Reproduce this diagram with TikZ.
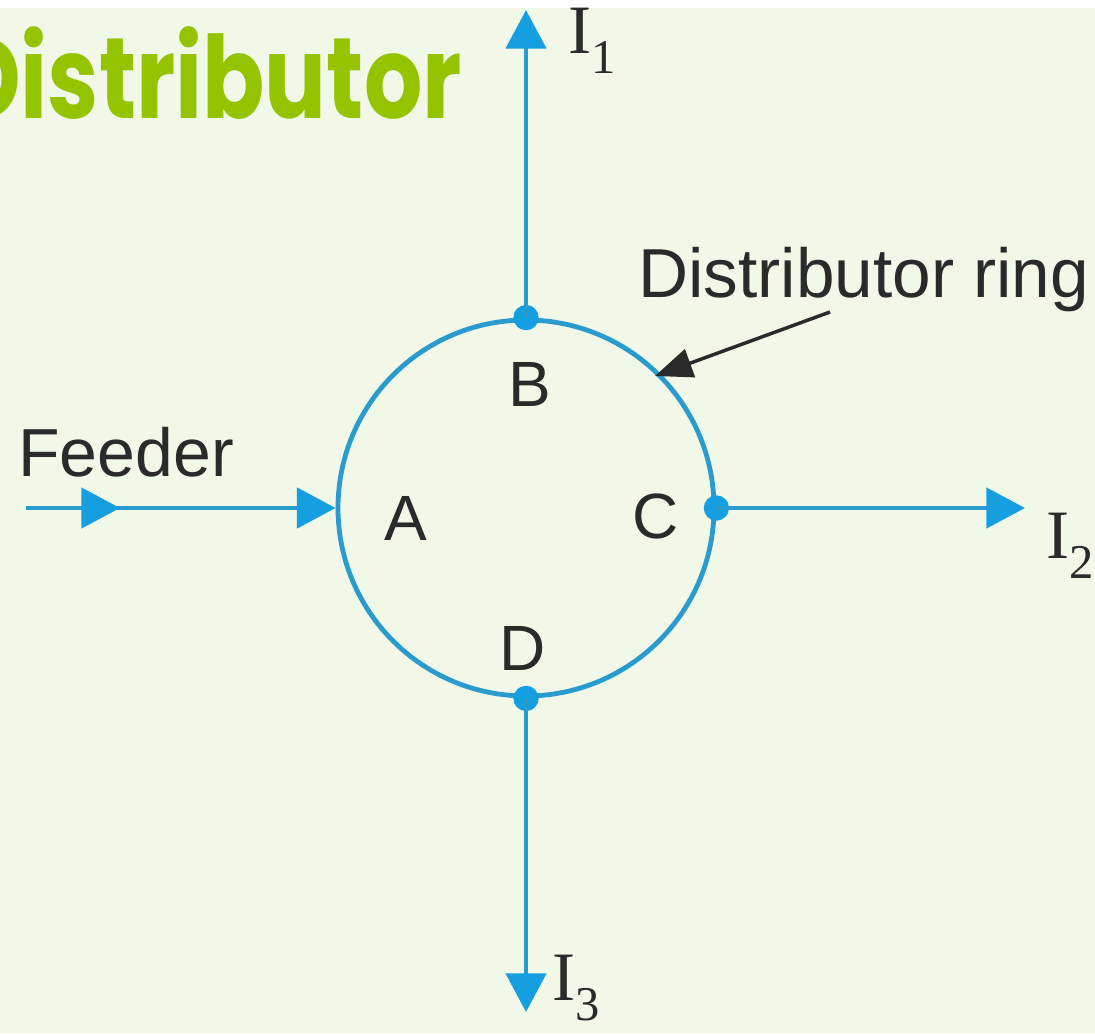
\documentclass[tikz,border=0pt]{standalone}
\usepackage{fontspec}
\setmainfont{Liberation Sans}
\newfontfamily\titlefont[FakeStretch=0.8]{Poppins}
\newfontfamily\seriffont{Liberation Serif}
\usetikzlibrary{arrows.meta}
\definecolor{bgc}{HTML}{F1F8E7}
\definecolor{titlec}{HTML}{94C400}
\definecolor{wirec}{HTML}{2A9BCF}
\definecolor{headc}{HTML}{159FE0}
\definecolor{txtc}{HTML}{2A2A2A}
\tikzset{
  wire/.style={draw=wirec, line width=3.6pt},
  bluehead/.style={-{Triangle[length=29pt,width=30pt,fill=headc,color=headc]}},
  dot/.style={circle, fill=headc, inner sep=0pt, minimum size=19pt},
  lbl/.style={font=\fontsize{48}{52}\selectfont, text=txtc, inner sep=0pt},
  cur/.style={font=\seriffont\fontsize{52}{56}\selectfont, text=txtc, inner sep=0pt},
}
\begin{document}
\begin{tikzpicture}[x=0.75pt,y=-0.75pt]
\fill[white] (0,0) rectangle (1095,1033);
\fill[bgc] (0,8) rectangle (1095,1033);
\useasboundingbox (0,0) rectangle (1095,1033);
% title
\node[anchor=base east, inner sep=0pt, text=titlec, font=\titlefont\bfseries\fontsize{86}{90}\selectfont] (title) at (462,118) {Distributor};
% ring
\node[circle, draw=wirec, line width=3.6pt, minimum size=282pt, inner sep=0pt] (ring) at (526,508) {};
% junction dots
\node[dot] (B) at (ring.north) {};
\node[dot] (C) at (ring.east) {};
\node[dot] (D) at (ring.south) {};
\coordinate (Ain) at (ring.west);
% ends
\coordinate (t1) at (528,10);
\coordinate (t2) at (1025,520);
\coordinate (t3) at (519,1012);
\coordinate (f0) at (26,513);
\coordinate (fm) at (120,513);
% connectors
\draw[wire,bluehead] (B.center) -- (B.center |- t1);
\draw[wire,bluehead] (C.center) -- (C.center -| t2);
\draw[wire,bluehead] (D.center) -- (D.center |- t3);
\draw[wire,bluehead] (f0 |- Ain) -- (Ain);
\draw[wire,bluehead] (f0 |- Ain) -- (fm |- Ain);
% labels
\node[lbl] (lB) at (530,384) {B};
\node[lbl] (lA) at (406,518) {A};
\node[lbl] (lC) at (656,516) {C};
\node[lbl] (lD) at (523,648) {D};
\node[lbl, font=\fontsize{51}{55}\selectfont, anchor=west] (feeder) at (18,452) {Feeder};
\node[lbl, font=\fontsize{52}{56}\selectfont, anchor=west] (ringlbl) at (638,280) {Distributor ring};
\draw[line width=2.6pt, txtc, -{Triangle[length=28pt,width=22pt]}] (830,312) -- (655,376);
% currents
\node[cur, anchor=base west] (I1) at (568,53) {I\textsubscript{1}};
\node[cur, anchor=base west] (I2) at (1046,558) {I\textsubscript{2}};
\node[cur, anchor=base west] (I3) at (552,1000) {I\textsubscript{3}};
\end{tikzpicture}
\end{document}
